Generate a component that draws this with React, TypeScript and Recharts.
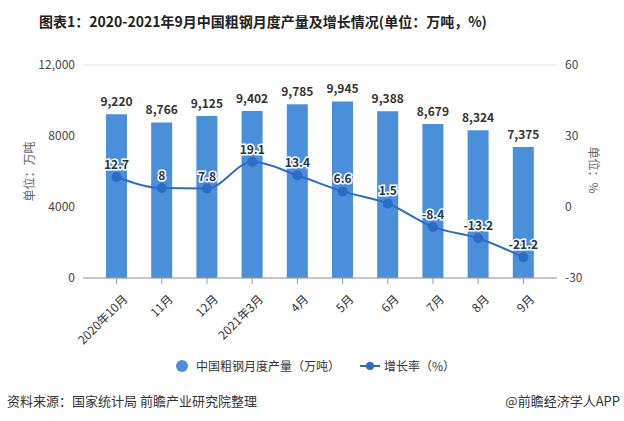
import { ComposedChart, Bar, Line, XAxis, YAxis, CartesianGrid, LabelList } from 'recharts'

const months = ['2020年10月', '11月', '12月', '2021年3月', '4月', '5月', '6月', '7月', '8月', '9月']
const output = [9220, 8766, 9125, 9402, 9785, 9945, 9388, 8679, 8324, 7375]
const growth = [12.7, 8, 7.8, 19.1, 13.4, 6.6, 1.5, -8.4, -13.2, -21.2]
const leftTicks = [0, 4000, 8000, 12000]
const rightTicks = [-30, 0, 30, 60]

const data = months.map((m, i) => ({ month: m, output: output[i], growth: growth[i] }))

const FONT = '"Noto Sans CJK SC", "Noto Sans", sans-serif'
const BAR = '#4a8fd9'
const LINE = '#2c6cc8'

// rotated category label
function MonthTick(props: any) {
  const { x, y, payload } = props
  return (
    <text
      x={x + 4}
      y={y + 6}
      transform={`rotate(-45, ${x + 4}, ${y + 6})`}
      textAnchor="end"
      dominantBaseline="hanging"
      fontSize={12}
      fill="#333"
      fontFamily={FONT}
    >
      {payload.value}
    </text>
  )
}

export default function App() {
  return (
    <div style={{ position: 'absolute', left: 0, top: 0, width: 624, height: 421, background: '#fff', fontFamily: FONT }}>
      <div style={{ position: 'absolute', left: 0, top: 11, width: 526, textAlign: 'center', fontSize: 14, fontWeight: 'bold', color: '#222' }}>
        图表1：2020-2021年9月中国粗钢月度产量及增长情况(单位：万吨，%)
      </div>
      <ComposedChart
        width={624}
        height={421}
        data={data}
        margin={{ top: 65, right: 17, left: 23, bottom: 83 }}
        style={{ position: 'absolute', left: 0, top: 0 }}
      >
        <CartesianGrid vertical={false} stroke="#e3e3e3" />
        <XAxis
          dataKey="month"
          padding={{ left: 11, right: 11 }}
          tick={<MonthTick />}
          tickLine={{ stroke: '#999' }}
          axisLine={{ stroke: '#999' }}
          interval={0}
          height={60}
        />
        <YAxis
          yAxisId="left"
          width={60}
          domain={[0, 12000]}
          ticks={leftTicks}
          tickFormatter={(v: number) => (v === 12000 ? '12,000' : String(v))}
          axisLine={false}
          tickLine={false}
          tick={{ fontSize: 12, fill: '#444', fontFamily: FONT }}
          label={{ value: '单位：万吨', angle: -90, position: 'insideLeft', dx: 2, dy: 30, fontSize: 12, fill: '#666', fontFamily: FONT }}
        />
        <YAxis
          yAxisId="right"
          orientation="right"
          width={50}
          domain={[-30, 60]}
          ticks={rightTicks}
          axisLine={false}
          tickLine={false}
          tick={{ fontSize: 12, fill: '#444', fontFamily: FONT }}
          label={{ value: '单位：%', angle: 90, position: 'insideRight', dx: -9, dy: 22, fontSize: 12, fill: '#666', fontFamily: FONT }}
        />
        <Bar yAxisId="left" dataKey="output" fill={BAR} barSize={21} isAnimationActive={false}>
          <LabelList
            dataKey="output"
            position="top"
            offset={8}
            formatter={(v: any) => Number(v).toLocaleString('en-US')}
            style={{ fontSize: 12, fontWeight: 'bold', fill: '#333', fontFamily: FONT }}
          />
        </Bar>
        <Line
          yAxisId="right"
          type="monotone"
          dataKey="growth"
          stroke={LINE}
          strokeWidth={2}
          dot={{ r: 4, fill: LINE, stroke: LINE }}
          isAnimationActive={false}
        >
          <LabelList
            dataKey="growth"
            position="top"
            offset={8}
            style={{ fontSize: 12, fontWeight: 'bold', fill: '#1f3550', stroke: '#fff', strokeWidth: 3, paintOrder: 'stroke', fontFamily: FONT }}
          />
        </Line>
      </ComposedChart>
      <div style={{ position: 'absolute', left: 176, top: 357, display: 'flex', alignItems: 'center', fontSize: 12, color: '#333' }}>
        <span style={{ display: 'inline-block', width: 12, height: 12, borderRadius: 6, background: BAR, marginRight: 8 }} />
        <span>中国粗钢月度产量（万吨）</span>
        <span style={{ display: 'inline-block', position: 'relative', width: 20, height: 10, marginLeft: 20, marginRight: 4 }}>
          <span style={{ position: 'absolute', left: 0, top: 4, width: 20, height: 2, background: LINE }} />
          <span style={{ position: 'absolute', left: 6, top: 1, width: 8, height: 8, borderRadius: 4, background: LINE }} />
        </span>
        <span>增长率（%）</span>
      </div>
      <div style={{ position: 'absolute', left: 7, top: 391, fontSize: 13, color: '#333' }}>
        资料来源：国家统计局 前瞻产业研究院整理
      </div>
      <div style={{ position: 'absolute', right: 4, top: 391, fontSize: 13, color: '#333' }}>
        @前瞻经济学人APP
      </div>
    </div>
  )
}
